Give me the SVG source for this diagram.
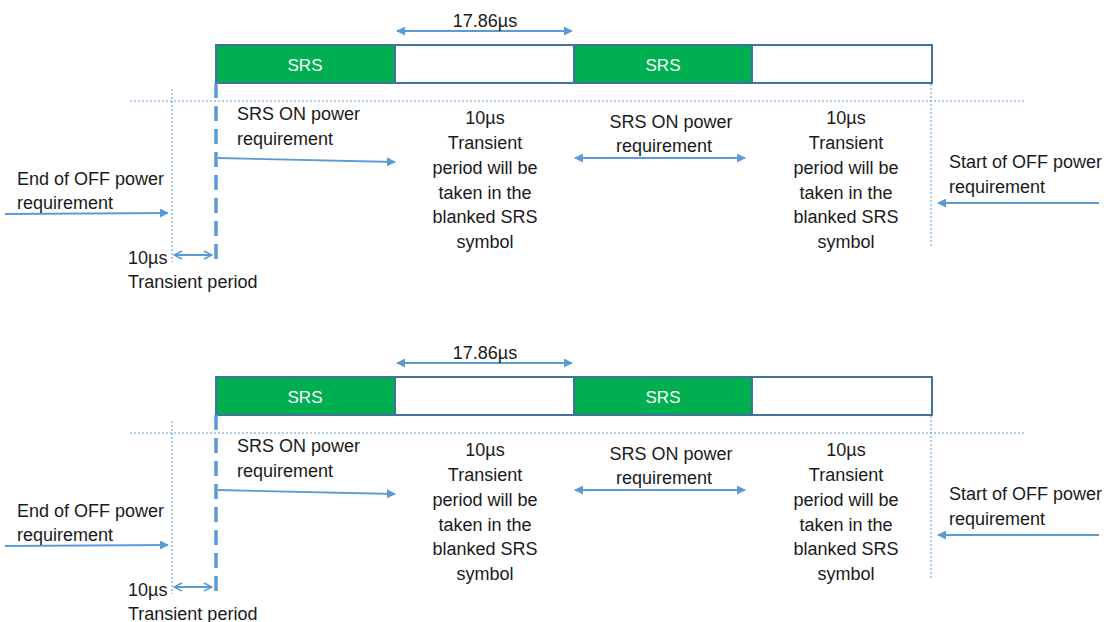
<svg xmlns="http://www.w3.org/2000/svg" width="1109" height="622" viewBox="0 0 1109 622">
<style>
text{font-family:"Liberation Sans",Arial,sans-serif;font-size:18px;fill:#1a1a1a}
.c{text-anchor:middle}
.w{fill:#ffffff;font-size:17px}
.g{fill:#00b050;stroke:#41719c;stroke-width:2}
.e{fill:#ffffff;stroke:#41719c;stroke-width:2}
.ln{stroke:#5b9bd5;stroke-width:1.8;fill:none}
.dot{stroke:#5b9bd5;stroke-width:1;stroke-dasharray:2,2;fill:none}
.dash{stroke:#5b9bd5;stroke-width:3.5;stroke-dasharray:15,8;fill:none}
</style>
<defs>
<marker id="ah" viewBox="0 0 10 10" refX="9" refY="5" markerWidth="9" markerHeight="9" markerUnits="userSpaceOnUse" orient="auto-start-reverse"><path d="M0,0 L10,5 L0,10 z" fill="#5b9bd5"/></marker>
<marker id="ao" viewBox="0 0 10 10" refX="9" refY="5" markerWidth="10" markerHeight="10" markerUnits="userSpaceOnUse" orient="auto-start-reverse"><path d="M1,1 L9,5 L1,9" fill="none" stroke="#5b9bd5" stroke-width="1.5"/></marker>
<g id="panel">
<g id="bar">
<rect class="g" x="216" y="45" width="179" height="38"/>
<rect class="e" x="395" y="45" width="179" height="38"/>
<rect class="g" x="574" y="45" width="178" height="38"/>
<rect class="e" x="752" y="45" width="180" height="38"/>
<text class="c w" x="305" y="71">SRS</text>
<text class="c w" x="663" y="71">SRS</text>
</g>
<g id="connectors">
<line class="ln" x1="397" y1="31" x2="572" y2="31" marker-start="url(#ah)" marker-end="url(#ah)"/>
<line class="dot" x1="130" y1="101" x2="1026" y2="101"/>
<line class="dot" x1="172" y1="89" x2="172" y2="262"/>
<line class="dot" x1="931" y1="84" x2="931" y2="248"/>
<line class="dash" x1="216" y1="83" x2="216" y2="262"/>
<line class="ln" x1="218" y1="158" x2="395" y2="162" marker-end="url(#ah)"/>
<line class="ln" x1="5" y1="214" x2="168" y2="213" marker-end="url(#ah)"/>
<line class="ln" x1="174" y1="255" x2="212" y2="255" marker-start="url(#ao)" marker-end="url(#ao)"/>
<line class="ln" x1="575" y1="158" x2="745" y2="158" marker-start="url(#ah)" marker-end="url(#ah)"/>
<line class="ln" x1="1099" y1="203" x2="938" y2="203" marker-end="url(#ah)"/>
</g>
<g id="labels">
<text class="c" x="485" y="27">17.86µs</text>
<text x="237" y="120">SRS ON power</text>
<text x="237" y="145">requirement</text>
<text x="17" y="185">End of OFF power</text>
<text x="17" y="209">requirement</text>
<text x="128" y="264">10µs</text>
<text x="128" y="288">Transient period</text>
<text class="c" x="485" y="124">10µs</text>
<text class="c" x="485" y="149">Transient</text>
<text class="c" x="485" y="174">period will be</text>
<text class="c" x="485" y="199">taken in the</text>
<text class="c" x="485" y="223">blanked SRS</text>
<text class="c" x="485" y="248">symbol</text>
<text class="c" x="671" y="128">SRS ON power</text>
<text class="c" x="664" y="152">requirement</text>
<text class="c" x="846" y="124">10µs</text>
<text class="c" x="846" y="149">Transient</text>
<text class="c" x="846" y="174">period will be</text>
<text class="c" x="846" y="199">taken in the</text>
<text class="c" x="846" y="223">blanked SRS</text>
<text class="c" x="846" y="248">symbol</text>
<text x="949" y="168">Start of OFF power</text>
<text x="949" y="193">requirement</text>
</g>
</g>
</defs>
<rect width="1109" height="622" fill="#ffffff"/>
<use id="top" href="#panel"/>
<use id="bottom" href="#panel" y="332"/>
</svg>
